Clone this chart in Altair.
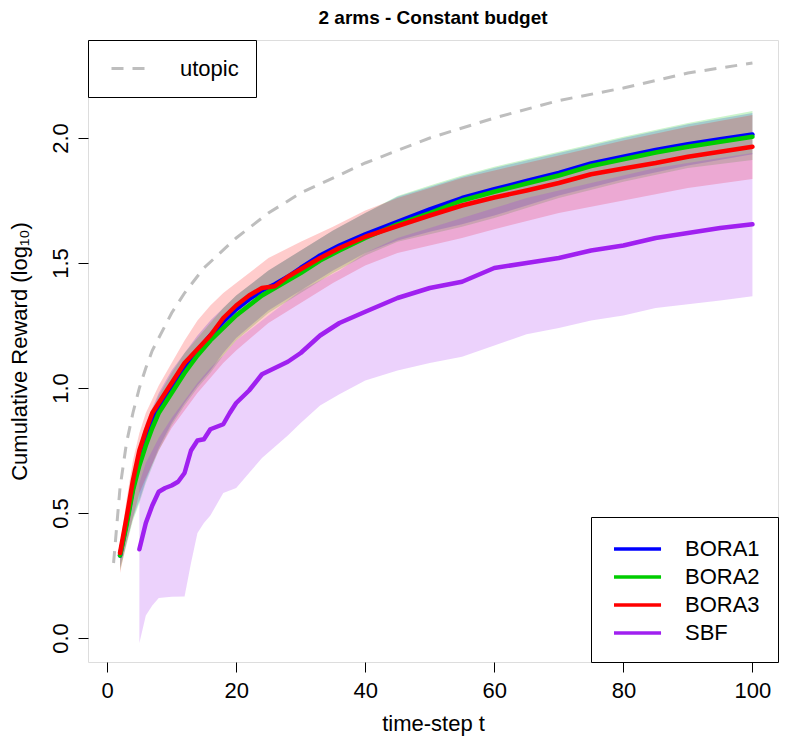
import altair as alt
import pandas as pd

# ---------------- data ----------------
SERIES = ["BORA1", "BORA2", "BORA3", "SBF"]
COLORS = ["#0000FF", "#00CD00", "#FF0000", "#A020F0"]
BAND_NAMES = ["BORA1 band", "BORA2 band", "BORA3 band", "SBF band"]

T_UTOPIC = [1, 2, 3, 4, 5, 6, 7, 8, 10, 12, 15, 20, 25, 30, 40, 50, 60, 70, 80, 90, 100]
UTOPIC = [0.30, 0.60, 0.78, 0.90, 1.00, 1.08, 1.15, 1.20, 1.30, 1.38, 1.48, 1.60, 1.70,
          1.78, 1.90, 2.00, 2.08, 2.15, 2.20, 2.26, 2.30]

T_BORA = [2, 3, 4, 5, 6, 7, 8, 9, 10, 12, 14, 16, 18, 20, 22, 24, 26, 28, 30, 33, 36, 40,
          45, 50, 55, 60, 65, 70, 75, 80, 85, 90, 95, 100]
BORA1 = [0.33, 0.46, 0.60, 0.71, 0.79, 0.86, 0.92, 0.96, 1.00, 1.08, 1.15, 1.21, 1.265,
         1.315, 1.355, 1.39, 1.415, 1.445, 1.48, 1.53, 1.57, 1.615, 1.665, 1.715, 1.76,
         1.795, 1.828, 1.86, 1.898, 1.925, 1.952, 1.975, 1.995, 2.014]
BORA2 = [0.33, 0.45, 0.59, 0.69, 0.77, 0.84, 0.90, 0.94, 0.98, 1.06, 1.13, 1.19, 1.24,
         1.29, 1.33, 1.37, 1.40, 1.43, 1.46, 1.51, 1.55, 1.60, 1.655, 1.70, 1.75, 1.785,
         1.818, 1.85, 1.888, 1.915, 1.942, 1.965, 1.985, 2.005]
BORA3 = [0.34, 0.48, 0.63, 0.75, 0.83, 0.90, 0.94, 0.98, 1.02, 1.10, 1.155, 1.21, 1.28,
         1.33, 1.37, 1.40, 1.407, 1.445, 1.475, 1.52, 1.56, 1.605, 1.648, 1.69, 1.73,
         1.762, 1.79, 1.82, 1.855, 1.878, 1.90, 1.925, 1.945, 1.965]

T_BAND = [2, 3, 4, 5, 6, 8, 10, 12, 14, 16, 18, 20, 25, 30, 35, 40, 45, 50, 55, 60, 70,
          80, 90, 100]
BORA1_HI = [0.36, 0.52, 0.66, 0.77, 0.86, 0.98, 1.07, 1.14, 1.21, 1.27, 1.32, 1.37, 1.47,
            1.55, 1.63, 1.70, 1.765, 1.805, 1.845, 1.88, 1.94, 2.00, 2.055, 2.10]
BORA1_LO = [0.28, 0.38, 0.48, 0.55, 0.63, 0.76, 0.86, 0.94, 1.01, 1.07, 1.14, 1.20, 1.31,
            1.39, 1.47, 1.54, 1.59, 1.625, 1.655, 1.69, 1.77, 1.835, 1.89, 1.935]
BORA2_HI = [0.36, 0.51, 0.65, 0.76, 0.85, 0.97, 1.06, 1.14, 1.20, 1.26, 1.32, 1.37, 1.47,
            1.55, 1.63, 1.70, 1.768, 1.81, 1.85, 1.885, 1.945, 2.005, 2.06, 2.108]
BORA2_LO = [0.27, 0.37, 0.47, 0.54, 0.62, 0.75, 0.85, 0.93, 1.00, 1.06, 1.13, 1.19, 1.30,
            1.38, 1.46, 1.53, 1.585, 1.615, 1.645, 1.68, 1.76, 1.825, 1.88, 1.912]
BORA3_HI = [0.37, 0.55, 0.71, 0.82, 0.90, 1.01, 1.10, 1.19, 1.27, 1.33, 1.38, 1.42, 1.52,
            1.585, 1.645, 1.71, 1.76, 1.80, 1.84, 1.87, 1.93, 1.99, 2.045, 2.092]
BORA3_LO = [0.26, 0.38, 0.48, 0.58, 0.64, 0.75, 0.84, 0.91, 0.98, 1.04, 1.10, 1.15, 1.26,
            1.34, 1.42, 1.49, 1.54, 1.57, 1.60, 1.635, 1.70, 1.75, 1.80, 1.836]

T_SBF = [5, 6, 7, 8, 9, 10, 11, 12, 13, 14, 15, 16, 18, 19, 20, 22, 24, 26, 28, 30, 33,
         36, 40, 45, 50, 55, 60, 65, 70, 75, 80, 85, 90, 95, 100]
SBF = [0.355, 0.46, 0.53, 0.585, 0.60, 0.61, 0.625, 0.66, 0.75, 0.79, 0.795, 0.835,
       0.855, 0.90, 0.94, 0.99, 1.055, 1.08, 1.105, 1.14, 1.21, 1.26, 1.305, 1.36, 1.40,
       1.425, 1.48, 1.50, 1.52, 1.55, 1.57, 1.60, 1.62, 1.64, 1.655]

T_SBF_BAND = [5, 6, 7, 8, 10, 12, 13, 14, 15, 16, 18, 20, 22, 24, 26, 28, 30, 33, 36, 40,
              45, 50, 55, 60, 65, 70, 75, 80, 85, 90, 95, 100]
SBF_LO = [-0.02, 0.09, 0.13, 0.16, 0.165, 0.166, 0.30, 0.42, 0.46, 0.49, 0.58, 0.60,
          0.66, 0.72, 0.765, 0.81, 0.86, 0.93, 0.975, 1.03, 1.07, 1.10, 1.125, 1.17,
          1.215, 1.24, 1.27, 1.29, 1.32, 1.335, 1.35, 1.367]
SBF_HI = [0.62, 0.70, 0.75, 0.80, 0.88, 0.95, 0.985, 1.02, 1.05, 1.08, 1.13, 1.19, 1.23,
          1.27, 1.31, 1.35, 1.39, 1.43, 1.47, 1.54, 1.60, 1.64, 1.68, 1.72, 1.76, 1.79,
          1.82, 1.85, 1.88, 1.90, 1.92, 1.94]

X_TICKS = [0, 20, 40, 60, 80, 100]
Y_TICKS = [0.0, 0.5, 1.0, 1.5, 2.0]

# ---------------- tables ----------------
lines_df = pd.concat([
    pd.DataFrame({"t": T_BORA, "value": BORA1, "series": "BORA1"}),
    pd.DataFrame({"t": T_BORA, "value": BORA2, "series": "BORA2"}),
    pd.DataFrame({"t": T_BORA, "value": BORA3, "series": "BORA3"}),
    pd.DataFrame({"t": T_SBF, "value": SBF, "series": "SBF"}),
], ignore_index=True)

bands_df = pd.concat([
    pd.DataFrame({"t": T_BAND, "lo": BORA1_LO, "hi": BORA1_HI, "band": BAND_NAMES[0]}),
    pd.DataFrame({"t": T_BAND, "lo": BORA2_LO, "hi": BORA2_HI, "band": BAND_NAMES[1]}),
    pd.DataFrame({"t": T_BAND, "lo": BORA3_LO, "hi": BORA3_HI, "band": BAND_NAMES[2]}),
    pd.DataFrame({"t": T_SBF_BAND, "lo": SBF_LO, "hi": SBF_HI, "band": BAND_NAMES[3]}),
], ignore_index=True)

utopic_df = pd.DataFrame({"t": T_UTOPIC, "value": UTOPIC, "name": "utopic"})

# ---------------- chart ----------------
FONT = "Liberation Sans"
FS = 22
W, H = 690, 622

xscale = alt.Scale(domain=[-2.96, 103.96], nice=False, zero=False)
yscale = alt.Scale(domain=[-0.096, 2.392], nice=False, zero=False)

x_axis = alt.Axis(values=X_TICKS, title="time-step t", domain=False, grid=False,
                  tickSize=10, tickColor="black", tickWidth=1,
                  labelFont=FONT, labelFontSize=FS, labelColor="black", labelPadding=8,
                  titleFont=FONT, titleFontSize=FS, titleFontWeight="normal",
                  titleColor="black", titleX=W / 2, titleY=68,
                  titleBaseline="alphabetic", format="d", labelFlush=False)
y_axis = alt.Axis(values=Y_TICKS, title="Cumulative Reward (log₁₀)", domain=False,
                  grid=False, tickSize=10, tickColor="black", tickWidth=1,
                  labelFont=FONT, labelFontSize=FS, labelColor="black",
                  labelAngle=270, labelAlign="center", labelBaseline="alphabetic",
                  labelPadding=11, format=".1f", labelFlush=False,
                  titleFont=FONT, titleFontSize=FS, titleFontWeight="normal",
                  titleColor="black", titleAngle=270, titleX=-62, titleY=H / 2,
                  titleAlign="center", titleBaseline="alphabetic")

X = alt.X("t:Q", scale=xscale, axis=x_axis)

bands = alt.Chart(bands_df).mark_area(fillOpacity=0.2, interpolate="linear").encode(
    x=X,
    y=alt.Y("lo:Q", scale=yscale, axis=y_axis),
    y2="hi:Q",
    fill=alt.Fill("band:N", scale=alt.Scale(domain=BAND_NAMES, range=COLORS), legend=None),
)

utopic = alt.Chart(utopic_df).mark_line(color="#BEBEBE", strokeWidth=3).encode(
    x=X,
    y=alt.Y("value:Q", scale=yscale, axis=y_axis),
    strokeDash=alt.StrokeDash(
        "name:N",
        scale=alt.Scale(domain=["utopic"], range=[[12, 9]]),
        legend=alt.Legend(orient="top-left", offset=0, title=None,
                          symbolType="M-0.5,0H3.5", symbolSize=400,
                          symbolStrokeWidth=3, symbolStrokeColor="#BEBEBE",
                          labelFont=FONT, labelFontSize=FS, labelColor="black",
                          labelOffset=52, padding=17, strokeColor="black",
                          fillColor="white", cornerRadius=0),
    ),
)

lines = alt.Chart(lines_df).mark_line(strokeWidth=4.5, strokeCap="round",
                                      strokeJoin="round").encode(
    x=X,
    y=alt.Y("value:Q", scale=yscale, axis=y_axis),
    stroke=alt.Stroke(
        "series:N",
        scale=alt.Scale(domain=SERIES, range=COLORS),
        legend=alt.Legend(orient="bottom-right", offset=0, title=None,
                          symbolType="M-0.75,0H3.17", symbolSize=576,
                          symbolStrokeWidth=3.5,
                          labelFont=FONT, labelFontSize=FS, labelColor="black",
                          labelOffset=48, rowPadding=3, padding=18,
                          strokeColor="black", fillColor="white", cornerRadius=0),
    ),
)

chart = alt.layer(bands, utopic, lines).properties(
    width=W,
    height=H,
    title=alt.TitleParams("2 arms - Constant budget", font=FONT, fontSize=19,
                          fontWeight="bold", color="black", anchor="middle",
                          frame="group", offset=12, baseline="bottom", dy=19),
    autosize=alt.AutoSizeParams(type="none"),
    padding={"left": 80, "top": 32, "right": 14, "bottom": 76},
).configure_view(stroke="black", strokeWidth=1.5).configure(background="white")

chart.save("out.html", embed_options={"renderer": "svg", "actions": False})
